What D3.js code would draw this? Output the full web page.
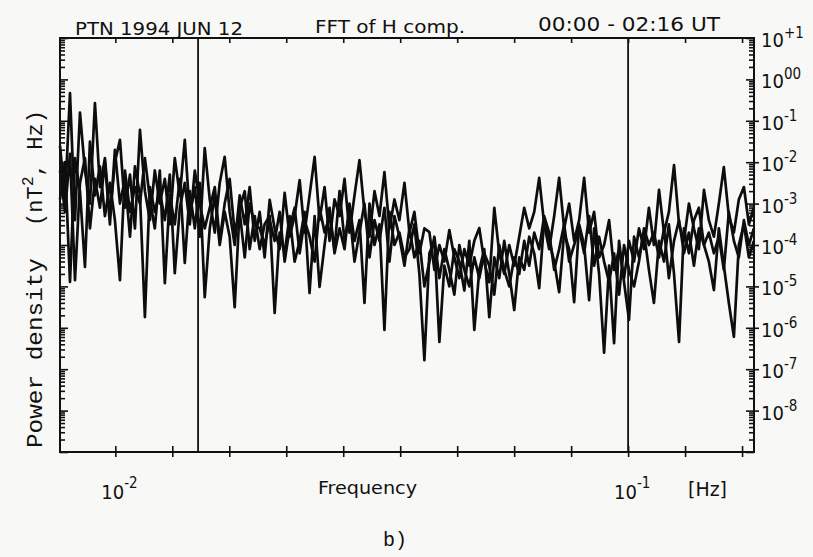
<!DOCTYPE html>
<html>
<head>
<meta charset="utf-8">
<script src="https://cdn.jsdelivr.net/npm/d3@7"></script>
<style>
  body { margin: 0; background: #f8f8f6; }
  svg { display: block; }
  .axis path { display: none; }
  .axis line { stroke: #111; stroke-width: 1.6; }
</style>
</head>
<body>
<svg id="chart" width="813" height="557"></svg>
<script>
// frequency bins [Hz]
var freqs = [0.007800, 0.007977, 0.008158, 0.008343, 0.008532, 0.008725, 0.008923, 0.009125, 0.009332, 0.009544,
  0.009760, 0.009981, 0.01021, 0.01044, 0.01068, 0.01092, 0.01117, 0.01142, 0.01168, 0.01194,
  0.01221, 0.01249, 0.01277, 0.01306, 0.01336, 0.01366, 0.01397, 0.01429, 0.01461, 0.01494,
  0.01528, 0.01563, 0.01598, 0.01634, 0.01671, 0.01709, 0.01748, 0.01788, 0.01828, 0.01870,
  0.01912, 0.01955, 0.02000, 0.02045, 0.02091, 0.02139, 0.02187, 0.02237, 0.02288, 0.02339,
  0.02392, 0.02447, 0.02502, 0.02559, 0.02617, 0.02676, 0.02737, 0.02799, 0.02862, 0.02927,
  0.02993, 0.03061, 0.03131, 0.03202, 0.03274, 0.03348, 0.03424, 0.03502, 0.03581, 0.03663,
  0.03746, 0.03830, 0.03917, 0.04006, 0.04097, 0.04190, 0.04285, 0.04382, 0.04481, 0.04583,
  0.04687, 0.04793, 0.04901, 0.05013, 0.05126, 0.05242, 0.05361, 0.05483, 0.05607, 0.05734,
  0.05864, 0.05997, 0.06133, 0.06272, 0.06414, 0.06560, 0.06708, 0.06860, 0.07016, 0.07175,
  0.07337, 0.07504, 0.07674, 0.07848, 0.08026, 0.08208, 0.08394, 0.08584, 0.08779, 0.08978,
  0.09181, 0.09389, 0.09602, 0.09820, 0.1004, 0.1027, 0.1050, 0.1074, 0.1098, 0.1123,
  0.1149, 0.1175, 0.1201, 0.1229, 0.1257, 0.1285, 0.1314, 0.1344, 0.1374, 0.1406,
  0.1437, 0.1470, 0.1503, 0.1537, 0.1572, 0.1608, 0.1644, 0.1682, 0.1720, 0.1759];

// log10 of power density [nT^2/Hz], three overlaid spectra
var seriesA = [-1.6, -2.9, -0.33, -3.4, -0.8, -2.2, -3.0, -0.57, -2.6, -1.9,
  -3.3, -2.0, -1.46, -3.1, -2.3, -3.6, -1.22, -2.7, -3.4, -2.2,
  -3.0, -2.4, -3.5, -1.9, -2.8, -1.46, -3.3, -2.6, -3.8, -1.66,
  -2.9, -3.7, -2.5, -1.87, -3.2, -4.0, -2.8, -3.5, -2.6, -3.9,
  -3.2, -4.3, -2.91, -3.6, -4.1, -2.74, -3.8, -3.3, -2.43, -3.7,
  -2.8, -1.87, -3.4, -2.6, -3.9, -2.9, -3.3, -2.4, -3.7, -2.8,
  -1.95, -3.2, -3.8, -2.7, -3.3, -2.24, -3.6, -2.9, -3.4, -2.5,
  -3.7, -3.2, -4.2, -3.6, -3.69, -4.6, -4.0, -4.4, -3.64, -4.3,
  -4.8, -4.1, -4.5, -3.9, -3.59, -4.4, -4.9, -3.1, -4.2, -4.7,
  -4.0, -4.5, -3.8, -3.1, -3.6, -3.2, -2.38, -3.5, -4.1, -3.3,
  -2.38, -3.6, -3.0, -3.9, -3.4, -2.38, -3.7, -3.2, -4.3, -4.0,
  -3.4, -4.6, -4.1, -4.8, -3.9, -4.4, -3.6, -4.1, -3.1, -4.0,
  -2.67, -3.7, -3.2, -2.07, -3.5, -3.9, -3.0, -3.6, -4.1, -2.67,
  -3.4, -3.8, -3.0, -2.12, -3.3, -3.7, -2.9, -2.6, -3.5, -3.1];
var seriesB = [-2.9, -2.0, -4.89, -1.9, -2.7, -4.53, -1.5, -2.8, -2.1, -3.3,
  -2.5, -3.4, -4.85, -2.2, -3.2, -2.6, -3.0, -1.9, -2.9, -3.6,
  -2.2, -4.92, -2.8, -3.5, -2.4, -4.43, -2.7, -3.6, -2.5, -5.26,
  -3.6, -2.8, -4.0, -3.2, -3.8, -5.5, -3.1, -2.7, -4.1, -3.3,
  -4.1, -3.5, -3.3, -5.64, -3.7, -4.2, -3.3, -4.4, -3.9, -3.2,
  -5.16, -3.3, -5.01, -4.0, -3.1, -4.2, -3.6, -4.1, -3.0, -3.9,
  -3.4, -5.4, -3.0, -4.0, -3.5, -6.05, -3.2, -4.0, -3.7, -4.3,
  -4.1, -3.5, -4.7, -6.78, -4.2, -3.9, -6.34, -4.5, -5.0, -4.1,
  -4.4, -5.1, -3.9, -6.05, -4.6, -4.1, -5.74, -4.3, -4.8, -3.9,
  -4.7, -5.57, -4.3, -4.6, -3.8, -4.2, -5.04, -3.4, -3.9, -4.4,
  -5.14, -3.7, -4.1, -5.38, -3.5, -4.0, -5.33, -3.6, -4.7, -6.6,
  -4.5, -6.37, -3.9, -4.9, -5.81, -3.8, -4.3, -3.7, -4.6, -5.4,
  -3.9, -4.4, -3.5, -4.7, -6.34, -3.6, -4.2, -3.4, -3.1, -4.0,
  -4.4, -5.09, -3.6, -4.5, -5.4, -6.22, -4.0, -3.5, -4.3, -3.9];
var seriesC = [-2.2, -3.2, -1.8, -4.85, -2.5, -1.9, -3.6, -2.4, -3.1, -2.0,
  -3.5, -1.7, -3.0, -2.4, -3.8, -2.1, -2.8, -5.74, -2.6, -3.2,
  -2.7, -3.4, -2.3, -4.68, -3.1, -2.5, -3.5, -2.2, -3.0, -3.6,
  -3.1, -2.6, -3.9, -3.0, -2.4, -3.7, -3.2, -4.3, -3.0, -3.5,
  -3.6, -4.0, -3.4, -3.9, -3.2, -4.4, -3.6, -3.1, -4.2, -3.4,
  -3.8, -4.4, -3.1, -3.7, -3.3, -4.1, -2.7, -3.9, -3.2, -4.4,
  -3.7, -3.0, -4.3, -3.4, -3.9, -3.1, -4.4, -3.3, -3.8, -4.5,
  -3.6, -4.3, -3.9, -5.0, -4.4, -3.8, -4.8, -4.1, -4.6, -5.2,
  -4.0, -4.6, -5.0, -4.3, -4.8, -4.2, -4.5, -5.2, -4.0, -4.6,
  -5.0, -4.3, -4.7, -3.9, -4.5, -3.7, -4.1, -3.3, -3.7, -4.6,
  -4.1, -3.5, -4.4, -4.0, -3.6, -4.2, -3.3, -4.5, -3.8, -4.4,
  -4.9, -4.2, -5.2, -4.0, -4.6, -5.0, -4.4, -3.6, -4.0, -3.7,
  -4.3, -3.6, -4.8, -3.9, -3.4, -4.2, -3.7, -4.5, -3.6, -4.0,
  -3.7, -4.2, -3.8, -4.6, -3.2, -3.9, -4.3, -3.4, -4.0, -3.6];

var xTicks = [0.01, 0.012915, 0.016681, 0.021544, 0.027826, 0.035938, 0.046416, 0.059948, 0.077426, 0.1, 0.12915, 0.16681];
var xLabels = [{v: 0.01, exp: "-2"}, {v: 0.1, exp: "-1"}];
var yExps = [1, 0, -1, -2, -3, -4, -5, -6, -7, -8];
var yLabels = ["+1", "00", "-1", "-2", "-3", "-4", "-5", "-6", "-7", "-8"];
var markers = [0.0145, 0.1];

var svg = d3.select("#chart");
var pLeft = 60, pRight = 754, pTop = 38, pBottom = 452;

var x = d3.scaleLog().domain([0.0078, 0.176]).range([pLeft, pRight]);
var y = d3.scaleLog().domain([1e-9, 1e1]).range([pBottom, pTop]);

// minor / major log ticks on y
var yMajor = [], yMinor = [];
for (var k = -9; k <= 1; k++){
    yMajor.push(Math.pow(10, k));
    if (k < 1){
        for (var m = 2; m <= 9; m++) yMinor.push(m * Math.pow(10, k));
    }
}

// left side, ticks pointing inside
svg.append("g").attr("class", "axis")
    .attr("transform", "translate(" + pLeft + ",0)")
    .call(d3.axisRight(y).tickValues(yMinor).tickSize(5).tickFormat(""));
svg.append("g").attr("class", "axis")
    .attr("transform", "translate(" + pLeft + ",0)")
    .call(d3.axisRight(y).tickValues(yMajor).tickSize(8).tickFormat(""));
// right side
svg.append("g").attr("class", "axis")
    .attr("transform", "translate(" + pRight + ",0)")
    .call(d3.axisLeft(y).tickValues(yMinor).tickSize(5).tickFormat(""));
svg.append("g").attr("class", "axis")
    .attr("transform", "translate(" + pRight + ",0)")
    .call(d3.axisLeft(y).tickValues(yMajor).tickSize(8).tickFormat(""));
svg.append("g").attr("class", "axis")
    .attr("transform", "translate(" + pRight + ",0)")
    .call(d3.axisRight(y).tickValues(yMajor.slice(1, 9)).tickSize(5).tickFormat(""));

// x ticks, bottom crosses the frame, top points inside
svg.append("g").attr("class", "axis")
    .attr("transform", "translate(0," + pBottom + ")")
    .call(d3.axisBottom(x).tickValues(xTicks).tickSize(5).tickFormat(""));
svg.append("g").attr("class", "axis")
    .attr("transform", "translate(0," + pBottom + ")")
    .call(d3.axisTop(x).tickValues(xTicks).tickSize(6).tickFormat(""));
svg.append("g").attr("class", "axis")
    .attr("transform", "translate(0," + pTop + ")")
    .call(d3.axisBottom(x).tickValues(xTicks).tickSize(5).tickFormat(""));

// vertical marker lines
svg.selectAll(".marker").data(markers).enter().append("line")
    .attr("x1", d => x(d)).attr("x2", d => x(d))
    .attr("y1", pTop).attr("y2", pBottom)
    .attr("stroke", "#111").attr("stroke-width", 1.8);

// spectra
var line = d3.line()
    .x((d, i) => x(freqs[i]))
    .y(d => y(Math.pow(10, d)));
[seriesA, seriesB, seriesC].forEach(function (s){
    svg.append("path")
        .attr("d", line(s))
        .attr("fill", "none")
        .attr("stroke", "#0d0d0d")
        .attr("stroke-width", 2.7)
        .attr("stroke-linejoin", "round");
});

// frame
svg.append("rect")
    .attr("x", pLeft).attr("y", pTop)
    .attr("width", pRight - pLeft).attr("height", pBottom - pTop)
    .attr("fill", "none").attr("stroke", "#111").attr("stroke-width", 2);

var sans = "'DejaVu Sans Condensed', 'DejaVu Sans', sans-serif";
var mono = "'Liberation Mono', 'DejaVu Sans Mono', monospace";

// right labels
yExps.forEach(function (e, i){
    var t = svg.append("text")
        .attr("x", pRight + 7).attr("y", y(Math.pow(10, e)) + 9)
        .style("font-family", sans).style("font-size", "20px").attr("fill", "#111");
    t.append("tspan").text("10");
    t.append("tspan").attr("dy", -9).style("font-size", "15px").text(yLabels[i]);
});

// x labels
xLabels.forEach(function (d){
    var t = svg.append("text")
        .attr("x", x(d.v) - 14).attr("y", 499)
        .style("font-family", sans).style("font-size", "20px").attr("fill", "#111");
    t.append("tspan").text("10");
    t.append("tspan").attr("dy", -11).style("font-size", "15px").text(d.exp);
});

svg.append("text").attr("x", 318).attr("y", 494)
    .style("font-family", sans).style("font-size", "18px").attr("fill", "#111")
    .attr("textLength", 99).attr("lengthAdjust", "spacingAndGlyphs")
    .text("Frequency");
svg.append("text").attr("x", 688).attr("y", 496)
    .style("font-family", sans).style("font-size", "19px").attr("fill", "#111")
    .attr("textLength", 39).attr("lengthAdjust", "spacingAndGlyphs")
    .text("[Hz]");

// title
svg.append("text").attr("x", 75).attr("y", 35)
    .style("font-family", sans).style("font-size", "18px").attr("fill", "#111")
    .attr("textLength", 168).attr("lengthAdjust", "spacingAndGlyphs")
    .text("PTN  1994 JUN 12");
svg.append("text").attr("x", 315).attr("y", 33)
    .style("font-family", sans).style("font-size", "18px").attr("fill", "#111")
    .attr("textLength", 150).attr("lengthAdjust", "spacingAndGlyphs")
    .text("FFT of H comp.");
svg.append("text").attr("x", 538).attr("y", 31)
    .style("font-family", sans).style("font-size", "19px").attr("fill", "#111")
    .attr("textLength", 182).attr("lengthAdjust", "spacingAndGlyphs")
    .text("00:00 - 02:16 UT");

// y label, two pieces
svg.append("text")
    .attr("transform", "translate(42,448) rotate(-90)")
    .style("font-family", mono).style("font-size", "22px").attr("fill", "#111")
    .attr("textLength", 190).attr("lengthAdjust", "spacingAndGlyphs")
    .text("Power density");
var yl = svg.append("text")
    .attr("transform", "translate(42,226) rotate(-90)")
    .style("font-family", mono).style("font-size", "22px").attr("fill", "#111")
    .attr("textLength", 116).attr("lengthAdjust", "spacing");
yl.append("tspan").text("(nT");
yl.append("tspan").attr("dy", -9).style("font-size", "16px").text("2");
yl.append("tspan").attr("dy", 9).text(", Hz)");

svg.append("text").attr("x", 383).attr("y", 546)
    .style("font-family", mono).style("font-size", "20px").attr("fill", "#111")
    .text("b)");
</script>
</body>
</html>
